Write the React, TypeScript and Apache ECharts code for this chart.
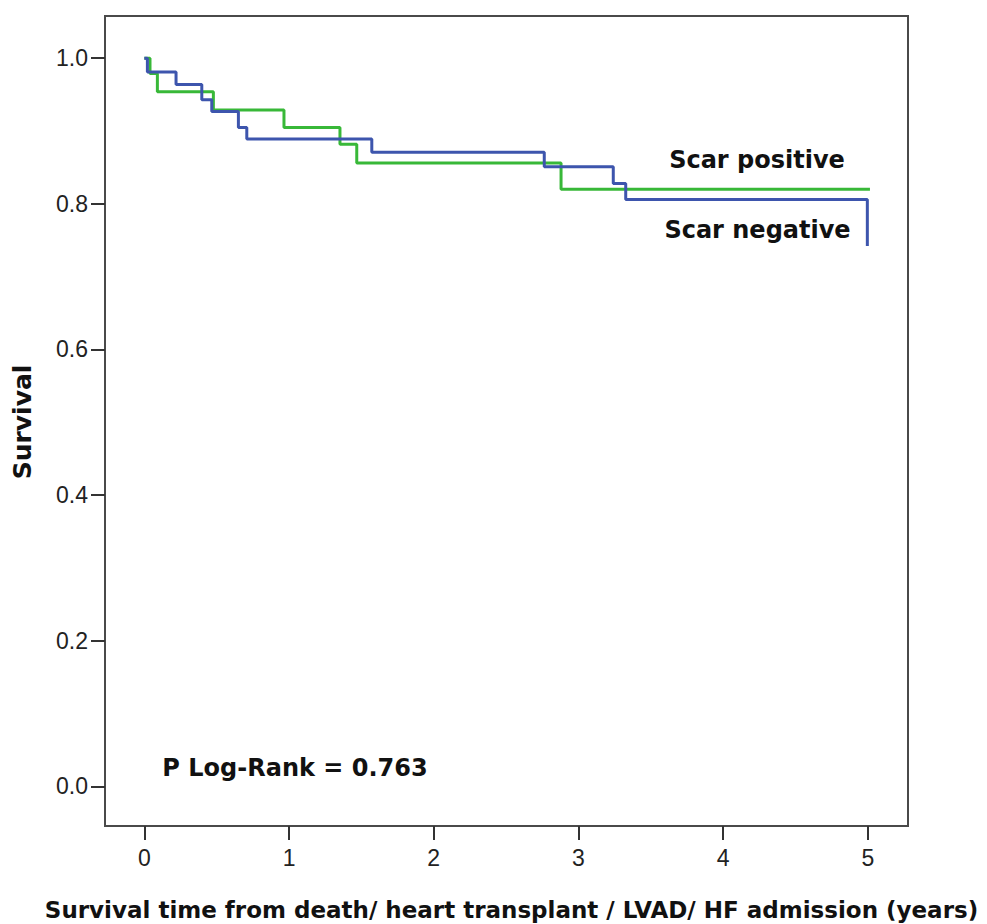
import React, { useEffect, useRef } from "react";
import * as echarts from "echarts";

// Scar negative (blue) Kaplan–Meier steps
const timesNeg = [0, 0.021, 0.219, 0.397, 0.466, 0.65, 0.708, 1.572, 2.764, 3.241, 3.327, 4.997];
const survNeg = [1.0, 0.981, 0.964, 0.943, 0.927, 0.905, 0.889, 0.871, 0.851, 0.828, 0.806, 0.742];

// Scar positive (green) Kaplan–Meier steps
const timesPos = [0, 0.039, 0.09, 0.477, 0.965, 1.352, 1.468, 2.88, 5.015];
const survPos = [1.0, 0.979, 0.954, 0.929, 0.905, 0.882, 0.856, 0.82, 0.82];

const xTicks = [0, 1, 2, 3, 4, 5];
const yTicks = [0, 0.2, 0.4, 0.6, 0.8, 1.0];

const labelPositive = "Scar positive";
const labelNegative = "Scar negative";
const pValueText = "P Log-Rank = 0.763";
const xTitle = "Survival time from death/ heart transplant / LVAD/ HF admission (years)";
const yTitle = "Survival";

const BOLD_FONT = "'DejaVu Sans', 'Liberation Sans', Arial, sans-serif";
const TICK_FONT = "'Liberation Sans Narrow', 'Liberation Sans', Arial, sans-serif";

export default function App() {
  const ref = useRef<HTMLDivElement>(null);

  useEffect(() => {
    if (!ref.current) return;
    const chart = echarts.init(ref.current, undefined, { renderer: "svg" });

    const negData = timesNeg.map((t, i) => [t, survNeg[i]]);
    const posData = timesPos.map((t, i) => [t, survPos[i]]);

    chart.setOption({
      animation: false,
      backgroundColor: "#ffffff",
      grid: {
        left: 105,
        right: 79,
        top: 16,
        bottom: 98,
        show: true,
        borderColor: "#4a4a4a",
        borderWidth: 2,
        backgroundColor: "transparent",
      },
      xAxis: {
        type: "value",
        min: -0.272,
        max: 5.278,
        axisLine: { show: false, onZero: false },
        splitLine: { show: false },
        axisTick: {
          show: true,
          customValues: xTicks,
          length: 14,
          inside: false,
          lineStyle: { color: "#333", width: 2 },
        },
        axisLabel: {
          customValues: xTicks,
          margin: 20,
          fontSize: 23,
          fontFamily: TICK_FONT,
          color: "#222",
          formatter: (v: number) => String(v),
        },
      },
      yAxis: {
        type: "value",
        min: -0.0545,
        max: 1.058,
        axisLine: { show: false, onZero: false },
        splitLine: { show: false },
        axisTick: {
          show: true,
          customValues: yTicks,
          length: 14,
          inside: false,
          lineStyle: { color: "#333", width: 2 },
        },
        axisLabel: {
          customValues: yTicks,
          margin: 17,
          fontSize: 23,
          fontFamily: TICK_FONT,
          color: "#222",
          formatter: (v: number) => v.toFixed(1),
        },
      },
      series: [
        {
          name: labelPositive,
          type: "line",
          step: "end",
          data: posData,
          showSymbol: false,
          lineStyle: { color: "#38b838", width: 3 },
          z: 2,
        },
        {
          name: labelNegative,
          type: "line",
          step: "end",
          data: negData,
          showSymbol: false,
          lineStyle: { color: "#3d55ad", width: 3 },
          z: 3,
        },
      ],
      graphic: [
        {
          type: "text",
          x: 757,
          y: 159.5,
          style: {
            text: labelPositive,
            font: `bold 24px ${BOLD_FONT}`,
            fill: "#111",
            textAlign: "center",
            textVerticalAlign: "middle",
          },
        },
        {
          type: "text",
          x: 757.5,
          y: 230,
          style: {
            text: labelNegative,
            font: `bold 24px ${BOLD_FONT}`,
            fill: "#111",
            textAlign: "center",
            textVerticalAlign: "middle",
          },
        },
        {
          type: "text",
          x: 295,
          y: 767.5,
          style: {
            text: pValueText,
            font: `bold 24px ${BOLD_FONT}`,
            fill: "#111",
            textAlign: "center",
            textVerticalAlign: "middle",
          },
        },
        {
          type: "text",
          x: 511.5,
          y: 910,
          style: {
            text: xTitle,
            font: `bold 23px ${BOLD_FONT}`,
            fill: "#111",
            textAlign: "center",
            textVerticalAlign: "middle",
          },
        },
        {
          type: "text",
          x: 22,
          y: 422,
          rotation: Math.PI / 2,
          style: {
            text: yTitle,
            font: `bold 25px ${BOLD_FONT}`,
            fill: "#111",
            textAlign: "center",
            textVerticalAlign: "middle",
          },
        },
      ],
    });

    return () => {
      chart.dispose();
    };
  }, []);

  return (
    <div
      ref={ref}
      style={{ position: "fixed", left: 0, top: 0, width: 987, height: 924 }}
    />
  );
}
